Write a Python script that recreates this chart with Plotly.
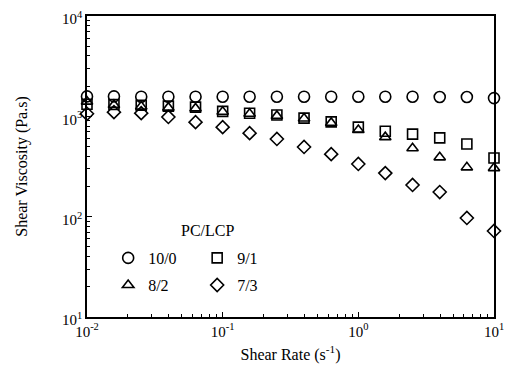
import plotly.graph_objects as go

shear_rate = [0.01, 0.0158, 0.0251, 0.0398, 0.0631, 0.1, 0.158, 0.251, 0.398, 0.631,
              1.0, 1.58, 2.51, 3.98, 6.31, 10.0]
visc_10_0 = [1580, 1580, 1570, 1570, 1570, 1570, 1570, 1570, 1570, 1570,
             1570, 1570, 1570, 1560, 1560, 1520]
visc_9_1 = [1320, 1310, 1290, 1265, 1235, 1120, 1075, 1030, 960, 880,
            780, 710, 665, 610, 530, 385]
visc_8_2 = [1400, 1300, 1250, 1220, 1200, 1110, 1060, 1010, 950, 860,
            730, 620, 480, 390, 310, 305]
visc_7_3 = [1060, 1100, 1076, 985, 875, 780, 680, 595, 495, 420,
            335, 272, 207, 176, 97, 72]

series_names = ["10/0", "9/1", "8/2", "7/3"]
x_tickvals = [0.01, 0.1, 1, 10]
x_ticktext = ["10<sup>-2</sup>", "10<sup>-1</sup>", "10<sup>0</sup>", "10<sup>1</sup>"]
y_tickvals = [10, 100, 1000, 10000]
y_ticktext = ["10<sup>1</sup>", "10<sup>2</sup>", "10<sup>3</sup>", "10<sup>4</sup>"]

FONT = "Times New Roman, Liberation Serif, serif"
styles = [
    ("circle-open", 11, "legend"),
    ("square-open", 10, "legend"),
    ("triangle-up-open", 10, "legend2"),
    ("diamond-open", 10, "legend2"),
]
data = [visc_10_0, visc_9_1, visc_8_2, visc_7_3]

fig = go.Figure()
for name, ys, (sym, size, leg) in zip(series_names, data, styles):
    fig.add_trace(go.Scatter(
        x=shear_rate, y=ys, mode="markers", name=name, legend=leg,
        marker=dict(symbol=sym, size=size, color="black", line=dict(width=1.6, color="black")),
        cliponaxis=False,
    ))

axis_common = dict(
    type="log", showline=True, linecolor="black", linewidth=1.5, mirror=True,
    ticks="inside", ticklen=5, tickwidth=1, tickcolor="black",
    showgrid=False, zeroline=False, automargin=False, ticklabeloverflow="allow",
    minor=dict(ticks="inside", ticklen=3, tickwidth=1, tickcolor="black", dtick="D1"),
    tickfont=dict(family=FONT, size=15, color="black"),
)

leg_common = dict(orientation="h", xanchor="left", yanchor="middle",
                  bgcolor="rgba(0,0,0,0)", font=dict(family=FONT, size=16, color="black"),
                  entrywidth=44, itemwidth=30, tracegroupgap=0)

# page body adds an 8px offset, so the figure is 8px smaller and margins shifted
fig.update_layout(
    width=510, height=374,
    margin=dict(l=79, r=24, t=8, b=65),
    paper_bgcolor="white", plot_bgcolor="white",
    font=dict(family=FONT, color="black"),
    xaxis=dict(axis_common, range=[-2, 1], tickvals=x_tickvals, ticktext=x_ticktext,
               title=dict(text="Shear Rate (s<sup>-1</sup>)", font=dict(family=FONT, size=16), standoff=10)),
    yaxis=dict(axis_common, range=[1, 4], tickvals=y_tickvals, ticktext=y_ticktext,
               ticklabelshift=3,
               title=dict(text="Shear Viscosity (Pa.s)", font=dict(family=FONT, size=16), standoff=30)),
    legend=dict(leg_common, x=0.052, y=0.196),
    legend2=dict(leg_common, x=0.052, y=0.106),
    annotations=[dict(text="PC/LCP", xref="paper", yref="paper", x=0.295, y=0.289,
                      xanchor="center", yanchor="middle",
                      showarrow=False, font=dict(family=FONT, size=16, color="black"))],
)

fig.write_html("out.html")
